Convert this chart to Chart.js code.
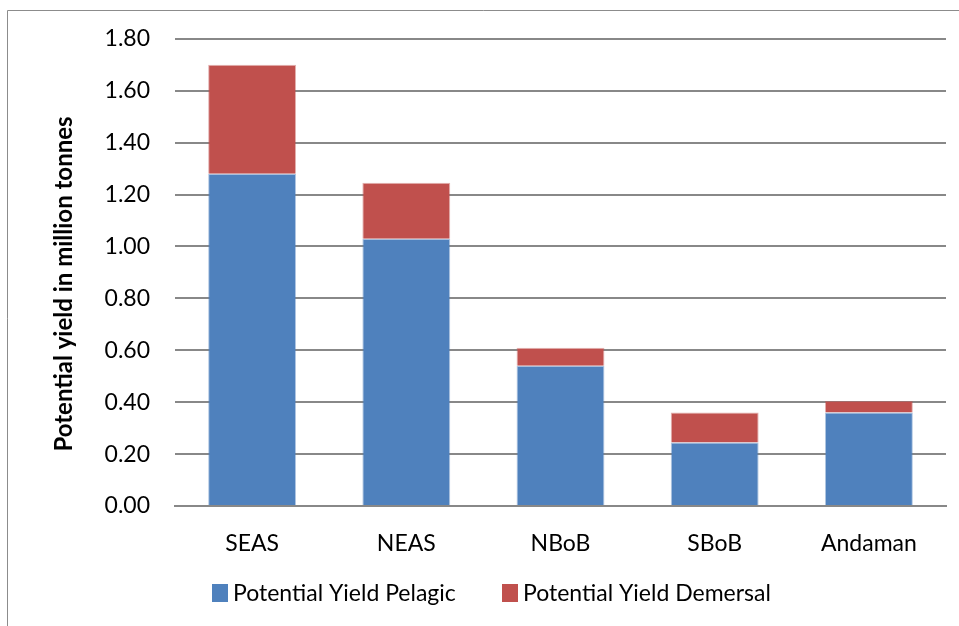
<!DOCTYPE html>
<html>
<head>
<meta charset="utf-8">
<script src="https://cdn.jsdelivr.net/npm/chart.js@4.4.1/dist/chart.umd.min.js"></script>
<style>
  html, body { margin: 0; padding: 0; background: #ffffff; }
  #wrap { width: 959px; height: 626px; position: relative; }
</style>
</head>
<body>
<div id="wrap"><canvas id="chart" width="959" height="626"></canvas></div>
<script>
// Potential fishery yield by region (million tonnes)
const regions = ['SEAS', 'NEAS', 'NBoB', 'SBoB', 'Andaman'];
const pelagicYield = [1.28, 1.03, 0.54, 0.245, 0.36];
const demersalYield = [0.42, 0.215, 0.07, 0.115, 0.045];
const seriesNames = ['Potential Yield Pelagic', 'Potential Yield Demersal'];
const yTicks = [0, 0.2, 0.4, 0.6, 0.8, 1.0, 1.2, 1.4, 1.6, 1.8];
const yTitle = 'Potential yield in million tonnes';

const FONT = 'Lato, "Open Sans", sans-serif';
const BLUE = '#4F81BD';
const RED = '#C0504D';
const GRID = '#888888';

// Outer frame around the chart object
const framePlugin = {
  id: 'frame',
  beforeDraw(chart) {
    const ctx = chart.ctx;
    ctx.save();
    ctx.fillStyle = '#ffffff';
    ctx.fillRect(0, 0, chart.width, chart.height);
    ctx.strokeStyle = '#8c8c8c';
    ctx.lineWidth = 1;
    ctx.beginPath();
    ctx.moveTo(7.5, chart.height + 2);
    ctx.lineTo(7.5, 10.5);
    ctx.lineTo(chart.width + 2, 10.5);
    ctx.stroke();
    ctx.restore();
  }
};

// Rotated value-axis title
const yTitlePlugin = {
  id: 'yTitle',
  afterDraw(chart) {
    const ctx = chart.ctx;
    ctx.save();
    ctx.translate(64, 284);
    ctx.rotate(-Math.PI / 2);
    ctx.font = 'bold 24px ' + FONT;
    ctx.fillStyle = '#000000';
    ctx.textAlign = 'center';
    ctx.textBaseline = 'middle';
    ctx.fillText(yTitle, 0, 0);
    ctx.restore();
  }
};

// Legend row drawn under the category labels
const legendPlugin = {
  id: 'bottomLegend',
  afterDraw(chart) {
    const ctx = chart.ctx;
    const items = [
      { x: 212, ds: chart.data.datasets[0] },
      { x: 502, ds: chart.data.datasets[1] }
    ];
    ctx.save();
    ctx.font = '23px ' + FONT;
    ctx.textBaseline = 'middle';
    ctx.textAlign = 'left';
    items.forEach(it => {
      ctx.fillStyle = it.ds.backgroundColor;
      ctx.fillRect(it.x, 584, 16, 18);
      ctx.fillStyle = '#000000';
      ctx.fillText(it.ds.label, it.x + 21, 594);
    });
    ctx.restore();
  }
};

new Chart(document.getElementById('chart'), {
  type: 'bar',
  data: {
    labels: regions,
    datasets: [
      {
        label: seriesNames[0],
        data: pelagicYield,
        backgroundColor: BLUE,
        borderColor: 'rgba(79,129,189,0.45)',
        borderWidth: 1,
        barPercentage: 0.57,
        categoryPercentage: 1.0
      },
      {
        label: seriesNames[1],
        data: demersalYield,
        backgroundColor: RED,
        borderColor: 'rgba(192,80,77,0.45)',
        borderWidth: 1,
        barPercentage: 0.57,
        categoryPercentage: 1.0
      }
    ]
  },
  options: {
    responsive: false,
    animation: false,
    devicePixelRatio: 1,
    layout: { padding: { left: 0, right: 13, top: 37, bottom: 0 } },
    plugins: {
      legend: { display: false },
      tooltip: { enabled: false }
    },
    scales: {
      x: {
        stacked: true,
        grid: { display: false, drawTicks: false },
        border: { display: true, color: GRID, width: 2 },
        ticks: {
          color: '#000000',
          font: { family: FONT, size: 23 },
          padding: 24
        },
        afterFit(scale) { scale.height = 120; }
      },
      y: {
        stacked: true,
        min: 0,
        max: 1.8,
        afterBuildTicks(scale) { scale.ticks = yTicks.map(v => ({ value: v })); },
        grid: { color: GRID, lineWidth: 2, drawTicks: false },
        border: { display: false },
        ticks: {
          color: '#000000',
          font: { family: FONT, size: 23 },
          padding: 25,
          callback: v => Number(v).toFixed(2)
        },
        afterFit(scale) { scale.width = 175; }
      }
    }
  },
  plugins: [framePlugin, yTitlePlugin, legendPlugin]
});
</script>
</body>
</html>
